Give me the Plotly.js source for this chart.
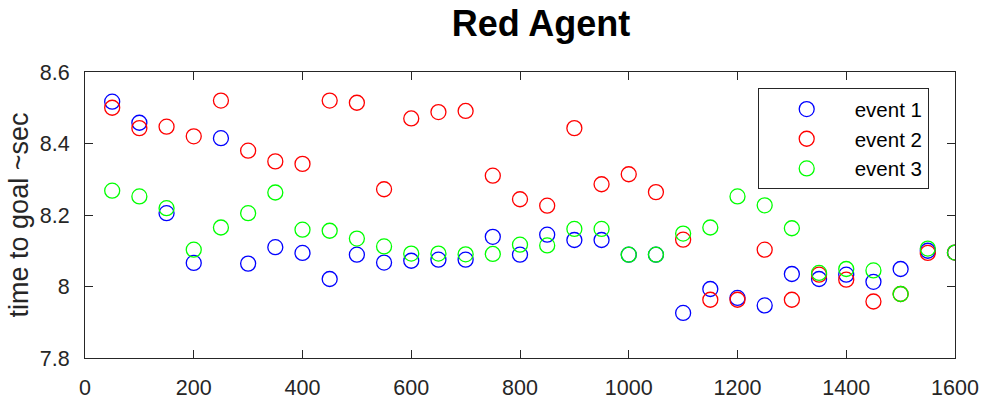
<!DOCTYPE html>
<html>
<head>
<meta charset="utf-8">
<script src="https://cdn.plot.ly/plotly-3.0.1.min.js"></script>
<style>
  html, body { margin: 0; padding: 0; background: #fff; }
  #chart { width: 984px; height: 399px; }
</style>
</head>
<body>
<div id="chart"></div>
<script>
// Sample positions (x) shared by all three events
const samples = [50, 100, 150, 200, 250, 300, 350, 400, 450, 500, 550, 600, 650, 700, 750, 800,
                 850, 900, 950, 1000, 1050, 1100, 1150, 1200, 1250, 1300, 1350, 1400, 1450, 1500, 1550, 1600];

// Time to goal (sec) per event
const event1 = [8.517, 8.458, 8.205, 8.066, 8.415, 8.064, 8.110, 8.094, 8.021, 8.089, 8.067, 8.072, 8.075, 8.075, 8.139, 8.089,
                8.145, 8.130, 8.130, 8.089, 8.089, 7.926, 7.993, 7.968, 7.947, 8.035, 8.021, 8.033, 8.013, 8.049, 8.100, 8.095];
const event2 = [8.500, 8.443, 8.447, 8.420, 8.520, 8.380, 8.350, 8.343, 8.520, 8.514, 8.272, 8.470, 8.488, 8.491, 8.310, 8.244,
                8.226, 8.443, 8.286, 8.314, 8.264, 8.131, 7.963, 7.963, 8.103, 7.963, 8.033, 8.019, 7.958, 7.979, 8.094, 8.095];
const event3 = [8.268, 8.252, 8.219, 8.103, 8.165, 8.205, 8.263, 8.159, 8.156, 8.134, 8.112, 8.092, 8.092, 8.090, 8.091, 8.117,
                8.115, 8.161, 8.161, 8.089, 8.089, 8.148, 8.165, 8.252, 8.227, 8.163, 8.038, 8.049, 8.045, 7.979, 8.106, 8.095];

const seriesNames = ['event 1', 'event 2', 'event 3'];
const seriesColors = ['#0000ff', '#ff0000', '#00ff00'];

// Axis ticks
const xTickVals = [0, 200, 400, 600, 800, 1000, 1200, 1400, 1600];
const xTickText = ['0', '200', '400', '600', '800', '1000', '1200', '1400', '1600'];
const yTickVals = [7.8, 8.0, 8.2, 8.4, 8.6];
const yTickText = ['7.8', '8', '8.2', '8.4', '8.6'];

const FONT = 'Liberation Sans, Arial, Helvetica, sans-serif';
const INK = '#262626';

const traces = [event1, event2, event3].map((vals, i) => ({
  type: 'scatter',
  mode: 'markers',
  name: seriesNames[i],
  x: samples,
  y: vals,
  marker: {
    symbol: 'circle-open',
    size: 15,
    color: seriesColors[i],
    line: { color: seriesColors[i], width: 1.3 }
  },
  hoverinfo: 'x+y+name'
}));

const axisCommon = {
  showgrid: false,
  zeroline: false,
  showline: true,
  linecolor: INK,
  linewidth: 1,
  mirror: 'ticks',
  ticks: 'inside',
  ticklen: 8,
  tickwidth: 1,
  tickcolor: INK,
  tickfont: { family: FONT, size: 21.5, color: INK },
  tickmode: 'array'
};

const layout = {
  width: 984,
  height: 399,
  paper_bgcolor: '#ffffff',
  plot_bgcolor: '#ffffff',
  margin: { l: 85, r: 29, t: 72, b: 41, pad: 0 },
  title: {
    text: 'Red Agent',
    font: { family: FONT, size: 36, color: '#000000', weight: 700 },
    xref: 'container',
    x: 541 / 984,
    xanchor: 'center',
    yref: 'container',
    y: 1 - 23 / 399,
    yanchor: 'middle'
  },
  xaxis: Object.assign({}, axisCommon, {
    range: [0, 1600],
    tickvals: xTickVals,
    ticktext: xTickText,
    ticklabelstandoff: 10
  }),
  yaxis: Object.assign({}, axisCommon, {
    range: [7.8, 8.6],
    tickvals: yTickVals,
    ticktext: yTickText,
    ticklabelstandoff: 10,
    title: {
      text: 'time to goal ~sec',
      font: { family: FONT, size: 27, color: INK },
      standoff: 3
    }
  }),
  showlegend: true,
  legend: {
    x: (757.7 - 85) / 870,
    y: (358.4 - 88.3) / 286.4,
    xanchor: 'left',
    yanchor: 'top',
    bgcolor: '#ffffff',
    bordercolor: INK,
    borderwidth: 1,
    itemwidth: 86,
    font: { family: FONT, size: 20.5, color: '#000000' },
    tracegroupgap: 0
  }
};

Plotly.newPlot('chart', traces, layout, { displayModeBar: false, staticPlot: true });
</script>
</body>
</html>
